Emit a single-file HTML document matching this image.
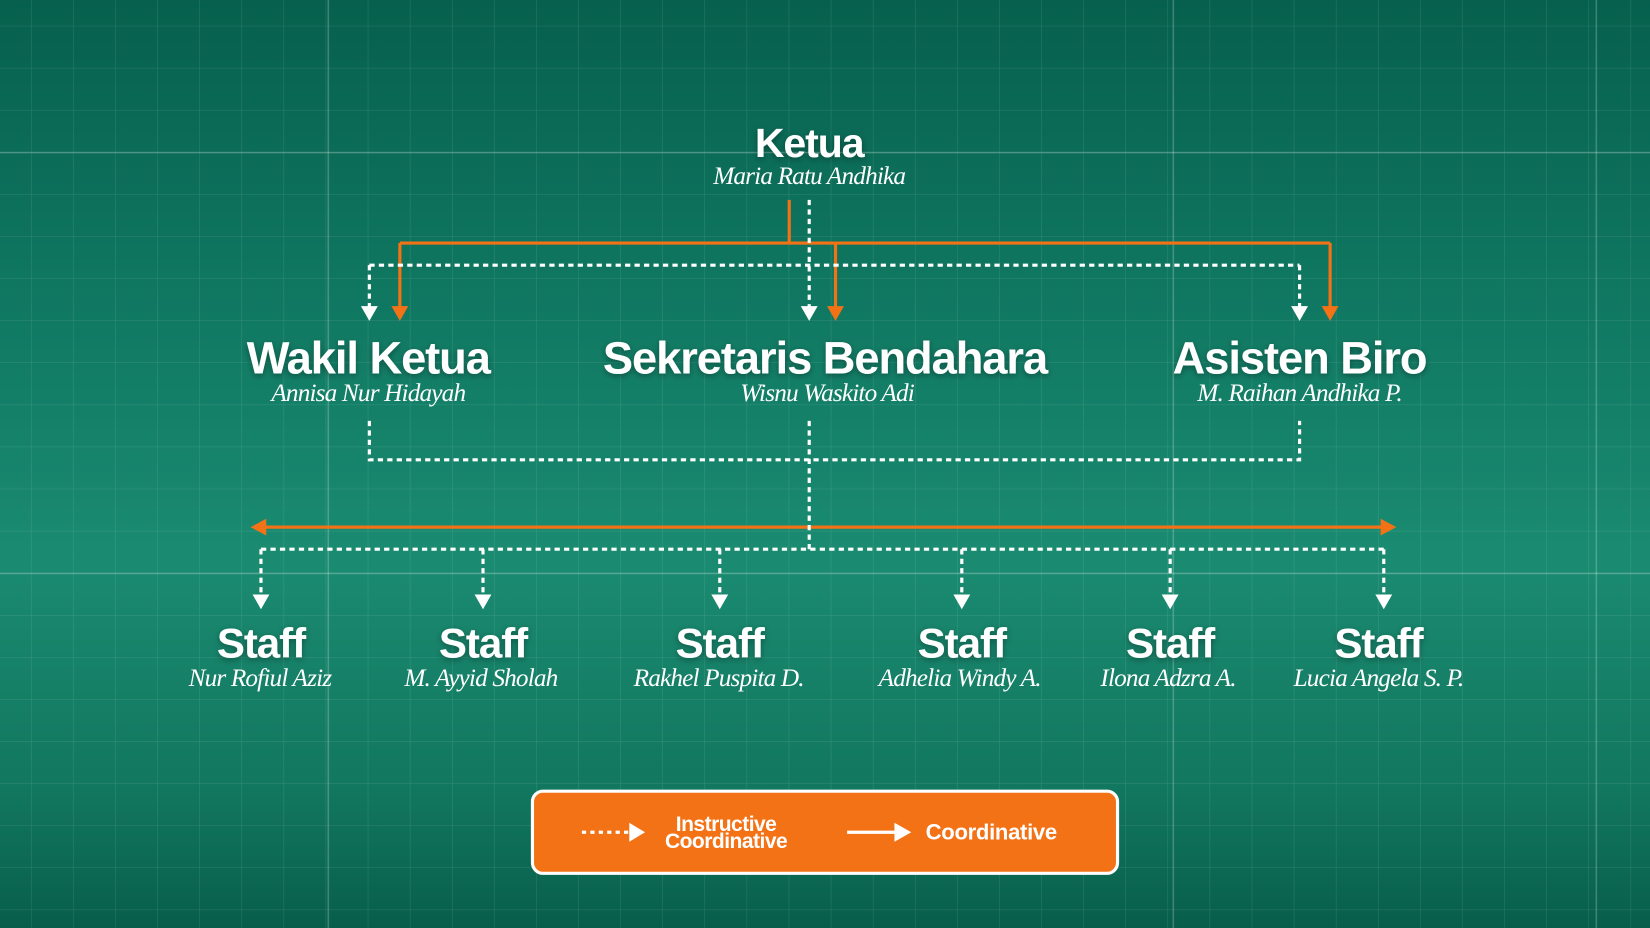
<!DOCTYPE html>
<html><head><meta charset="utf-8"><style>
html,body{margin:0;padding:0;width:1650px;height:928px;overflow:hidden}
body{background:linear-gradient(180deg,#06604d 0%,#0f7660 30%,#1a8b71 60%,#12775f 85%,#075e4b 100%)}
svg{position:absolute;left:0;top:0}
.t{font-family:"Liberation Sans",sans-serif;font-weight:bold;fill:#fff;text-anchor:middle;letter-spacing:-1px}
.n{font-family:"Liberation Serif",serif;font-style:italic;fill:#fff;text-anchor:middle;font-size:24px;letter-spacing:-0.8px}
</style></head><body>
<svg width="1650" height="928" viewBox="0 0 1568 882" preserveAspectRatio="none">
<defs>
<pattern id="g" width="40" height="40" patternUnits="userSpaceOnUse" x="30" y="25">
<path d="M40 0V40M0 40H40" stroke="#ffffff" stroke-opacity="0.14" stroke-width="1" fill="none"/>
</pattern>
<filter id="s"><feDropShadow dx="0" dy="2" stdDeviation="3" flood-color="#000" flood-opacity="0.35"/></filter>
</defs>
<rect width="1568" height="882" fill="url(#g)"/>
<g stroke="#ffffff" stroke-opacity="0.22" stroke-width="1.5">
<line x1="312" y1="0" x2="312" y2="882"/><line x1="1115" y1="0" x2="1115" y2="882"/><line x1="1517" y1="0" x2="1517" y2="882"/>
<line x1="0" y1="145" x2="1568" y2="145"/><line x1="0" y1="545" x2="1568" y2="545"/>
</g>
<g stroke="#f47216" stroke-width="3" fill="none">
<path d="M750 190V231M380 231H1264M380 231V292M794 231V292M1264 231V292"/>
<path d="M252 501H1313"/>
</g>
<g fill="#f47216">
<path d="M372 291H388L380 305Z"/><path d="M786 291H802L794 305Z"/><path d="M1256 291H1272L1264 305Z"/>
<path d="M238 501L253 493V509Z"/><path d="M1327 501L1312 493V509Z"/>
</g>
<g stroke="#fff" stroke-width="3" stroke-dasharray="5 4" fill="none">
<path d="M769 190V292M351 252H1235M351 252V292M1235 252V292"/>
<path d="M351 400V437H1235V400M769 400V522M248 522H1315"/>
<path d="M248 522V566M459 522V566M684 522V566M914 522V566M1112 522V566M1315 522V566"/>
</g>
<g fill="#fff">
<path d="M343 291H359L351 305Z"/><path d="M761 291H777L769 305Z"/><path d="M1227 291H1243L1235 305Z"/>
<path d="M240 565H256L248 579Z"/><path d="M451 565H467L459 579Z"/><path d="M676 565H692L684 579Z"/><path d="M906 565H922L914 579Z"/><path d="M1104 565H1120L1112 579Z"/><path d="M1307 565H1323L1315 579Z"/>
</g>
<g filter="url(#s)">
<text class="t" x="769" y="149" font-size="39">Ketua</text>
<text class="t" x="350" y="355" font-size="43">Wakil Ketua</text>
<text class="t" x="784" y="355" font-size="43">Sekretaris Bendahara</text>
<text class="t" x="1235" y="355" font-size="43">Asisten Biro</text>
<text class="t" x="248" y="625" font-size="40">Staff</text>
<text class="t" x="459" y="625" font-size="40">Staff</text>
<text class="t" x="684" y="625" font-size="40">Staff</text>
<text class="t" x="914" y="625" font-size="40">Staff</text>
<text class="t" x="1112" y="625" font-size="40">Staff</text>
<text class="t" x="1310" y="625" font-size="40">Staff</text>
</g>
<text class="n" x="769" y="175">Maria Ratu Andhika</text>
<text class="n" x="350" y="381">Annisa Nur Hidayah</text>
<text class="n" x="786" y="381">Wisnu Waskito Adi</text>
<text class="n" x="1235" y="381">M. Raihan Andhika P.</text>
<text class="n" x="247" y="652">Nur Rofiul Aziz</text>
<text class="n" x="457" y="652">M. Ayyid Sholah</text>
<text class="n" x="683" y="652">Rakhel Puspita D.</text>
<text class="n" x="912" y="652">Adhelia Windy A.</text>
<text class="n" x="1110" y="652">Ilona Adzra A.</text>
<text class="n" x="1310" y="652">Lucia Angela S. P.</text>
<rect x="506" y="752" width="556" height="78" rx="10" fill="#f47216" stroke="#fff" stroke-width="3"/>
<path d="M553 791H598" stroke="#fff" stroke-width="3" stroke-dasharray="4 4"/>
<path d="M598 782L613 791L598 800Z" fill="#fff"/>
<path d="M805 791H850" stroke="#fff" stroke-width="3"/>
<path d="M850 782L866 791L850 800Z" fill="#fff"/>
<text x="690" y="790" font-family="Liberation Sans,sans-serif" font-weight="bold" font-size="20" fill="#fff" text-anchor="middle" letter-spacing="-0.5">Instructive</text>
<text x="690" y="806" font-family="Liberation Sans,sans-serif" font-weight="bold" font-size="20" fill="#fff" text-anchor="middle" letter-spacing="-0.5">Coordinative</text>
<text x="942" y="798" font-family="Liberation Sans,sans-serif" font-weight="bold" font-size="21" fill="#fff" text-anchor="middle" letter-spacing="-0.3">Coordinative</text>
</svg>
</body></html>
